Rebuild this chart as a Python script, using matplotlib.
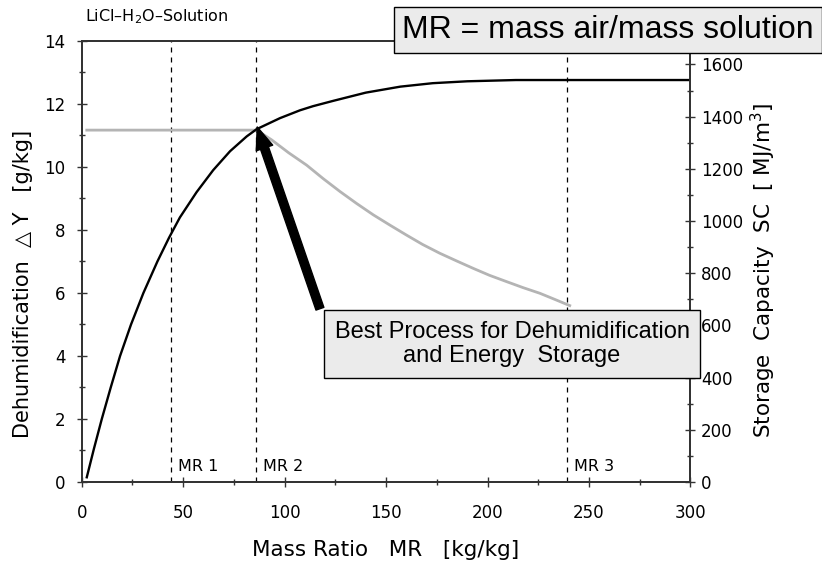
import matplotlib
matplotlib.use('Agg')
import matplotlib.pyplot as plt
from matplotlib.ticker import MultipleLocator

plt.rcParams['font.family'] = ['DejaVu Sans']

# black curve: dehumidification vs mass ratio
mr = [2.5, 6, 9.9, 14.3, 18.9, 24.3, 30.4, 37.3, 43, 48.4, 56.6, 64.8,
      73.1, 81.3, 86.2, 97.7, 107.6, 114, 124, 140, 157, 173, 190, 214, 300]
dehum = [0.15, 1.05, 2.0, 3.0, 4.0, 5.0, 6.0, 7.0, 7.75, 8.4, 9.2, 9.9,
         10.5, 10.97, 11.2, 11.55, 11.8, 11.93, 12.1, 12.36, 12.55, 12.66,
         12.72, 12.76, 12.76]

# grey curve: best process line
mr_best = [2.5, 86.2, 93.6, 102, 110.8, 119, 127.3, 135.5, 143.7, 152, 160,
           168, 176.5, 185, 193, 201, 209.4, 217.5, 225.8, 233, 240.5]
dehum_best = [11.17, 11.17, 10.86, 10.45, 10.06, 9.63, 9.22, 8.84, 8.48,
              8.15, 7.84, 7.54, 7.26, 7.01, 6.78, 6.56, 6.36, 6.17, 5.99,
              5.8, 5.6]

# mass ratio markers
mr_marks = [44, 86, 239]
mr_names = ['MR 1', 'MR 2', 'MR 3']

fig = plt.figure(figsize=(8.22, 5.69), dpi=100)
ax = fig.add_axes([0.0994, 0.1529, 0.7406, 0.7751])
ax2 = ax.twinx()

axis_col = '#333333'
for a in (ax, ax2):
    for s in a.spines.values():
        s.set_color(axis_col)
        s.set_linewidth(1.3)

ax.plot(mr_best, dehum_best, color='#b4b4b4', lw=2.0, zorder=3)
ax.plot(mr, dehum, color='black', lw=1.7, zorder=4)

for m, name in zip(mr_marks, mr_names):
    ax.axvline(m, color='black', lw=0.9, ls=(0, (4, 4)), zorder=2)
    ax.text(m + 3.5, 0.5, name, fontsize=11.5, va='center', ha='left')

ax.annotate('', xy=(86.5, 11.27), xytext=(117.4, 5.5),
            arrowprops=dict(arrowstyle='simple,head_width=1.25,head_length=1.6,tail_width=0.6',
                            color='black', shrinkA=0, shrinkB=0),
            zorder=6)

ax.set_xlim(0, 300)
ax.set_ylim(0, 14)
ax2.set_ylim(0, 1690)

ax.xaxis.set_major_locator(MultipleLocator(50))
ax.xaxis.set_minor_locator(MultipleLocator(25))
ax.yaxis.set_major_locator(MultipleLocator(2))
ax.yaxis.set_minor_locator(MultipleLocator(1))
ax2.set_yticks(range(0, 1601, 200))
ax2.yaxis.set_minor_locator(MultipleLocator(100))

ax.tick_params(which='major', direction='inout', length=7, width=1.0,
               color=axis_col, labelsize=12, pad=8)
ax.tick_params(which='minor', direction='inout', length=4, width=1.0,
               color=axis_col)
ax.tick_params(axis='x', pad=12)
ax.tick_params(top=False, which='both')
ax2.tick_params(which='major', direction='inout', length=7, width=1.0,
                color=axis_col, labelsize=12, pad=4)
ax2.tick_params(which='minor', direction='inout', length=4, width=1.0,
                color=axis_col)

ax.set_xlabel('Mass Ratio   MR   [kg/kg]', fontsize=15.5)
ax.xaxis.set_label_coords(0.5, -0.132)
ax.set_ylabel('Dehumidification  \u25b3 Y   [g/kg]', fontsize=15)
ax.yaxis.set_label_coords(-0.08, 0.45)
ax2.set_ylabel('Storage  Capacity  SC  [ MJ/m$^3$]', fontsize=15.5)
ax2.yaxis.set_label_coords(1.095, 0.48)

ax.text(0.005, 1.035, 'LiCl\u2013H$_2$O\u2013Solution', transform=ax.transAxes,
        fontsize=11.5, ha='left', va='bottom')

fig.text(0.740, 0.947, 'MR = mass air/mass solution', fontsize=23,
         family='Liberation Sans', ha='center', va='center', zorder=10,
         bbox=dict(boxstyle='square,pad=0.25', fc='#ebebeb', ec='black', lw=1.0))

fig.text(0.623, 0.3954, 'Best Process for Dehumidification\nand Energy  Storage',
         fontsize=17, family='Liberation Sans', ha='center', va='center',
         linespacing=1.15, zorder=10,
         bbox=dict(boxstyle='square,pad=0.45', fc='#ebebeb', ec='black', lw=1.0))

fig.savefig('out.png', dpi=100)
